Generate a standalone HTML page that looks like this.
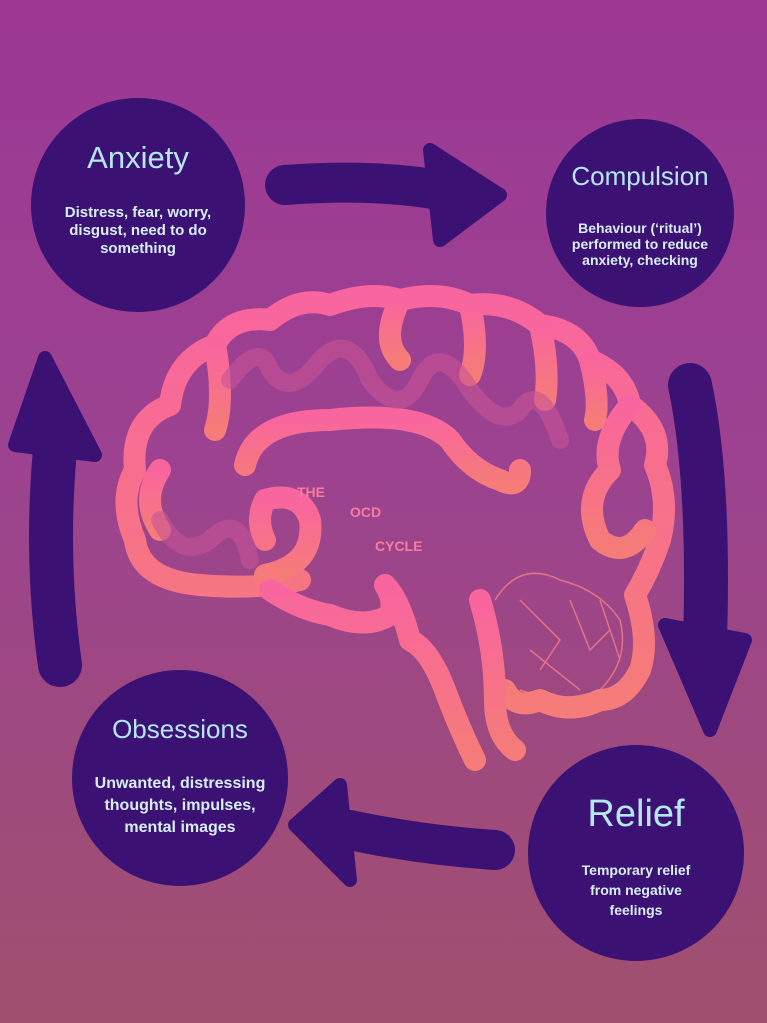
<!DOCTYPE html>
<html><head><meta charset="utf-8"><style>
html,body{margin:0;padding:0}
body{width:767px;height:1023px;overflow:hidden;background:linear-gradient(180deg,#9c3894 0%,#9c4290 45%,#a0506e 100%);position:relative;font-family:"Liberation Sans",sans-serif}
svg{position:absolute;left:0;top:0}
.c{position:absolute;border-radius:50%;background:#3b1274;color:#cdeef5;text-align:center;box-sizing:border-box}
.t{color:#b5e6f2;font-weight:500}
.b{font-size:15px;line-height:18px;font-weight:bold;color:#d8eef6}
</style></head><body>
<svg width="767" height="1023" viewBox="0 0 767 1023">
<defs><linearGradient id="g" x1="0" y1="0" x2="0" y2="1"><stop offset="0" stop-color="#f9659f"/><stop offset="1" stop-color="#f57c78"/></linearGradient></defs>
<g fill="#3b1274" stroke="#3b1274" stroke-linecap="round" stroke-linejoin="round">
<path d="M285 185 Q380 178 450 192" fill="none" stroke-width="40"/>
<path d="M430 150 L500 195 L440 240 Z" stroke-width="14"/>
<path d="M690 385 Q710 480 705 640" fill="none" stroke-width="44"/>
<path d="M665 625 L745 640 L710 730 Z" stroke-width="14"/>
<path d="M495 850 Q420 845 350 830" fill="none" stroke-width="40"/>
<path d="M340 785 L295 825 L350 880 Z" stroke-width="14"/>
<path d="M60 665 Q45 560 55 450" fill="none" stroke-width="44"/>
<path d="M15 445 L45 358 L95 455 Z" stroke-width="14"/>
</g>
<g fill="none" stroke="url(#g)" stroke-width="22" stroke-linecap="round" stroke-linejoin="round">
<path d="M300 580 Q260 590 200 585 Q140 580 135 540 Q118 500 135 470 Q130 420 170 405 Q175 360 215 345 Q230 315 270 320 Q300 295 330 305 Q370 290 400 300 Q440 290 470 305 Q510 300 540 325 Q580 330 590 360 Q625 375 630 405 Q665 430 655 465 Q670 500 660 540 Q650 570 635 595 Q650 640 640 670 Q625 700 600 700 Q570 715 540 700 Q515 710 505 690"/>
<path d="M160 470 Q140 500 160 530"/>
<path d="M215 345 Q225 400 215 430"/>
<path d="M300 330 L300 370"/>
<path d="M400 300 Q380 340 400 360"/>
<path d="M470 305 Q480 350 470 375"/>
<path d="M540 325 Q550 370 545 400"/>
<path d="M590 360 Q600 400 595 420"/>
<path d="M630 405 Q600 440 610 470 Q580 500 600 540 Q625 560 645 530"/>
<path d="M245 465 Q255 420 330 420 Q420 410 450 440 Q470 470 500 480 Q520 490 520 470"/>
<path d="M265 575 Q315 565 310 520 Q300 490 265 500 Q255 520 265 540"/>
<path d="M270 590 Q300 610 330 615 Q365 630 390 615 Q395 600 385 585 Q400 600 410 640 Q430 650 445 690 Q460 730 475 760"/>
<path d="M480 600 Q495 650 495 700 Q495 735 515 750"/>
</g>
<g fill="none" stroke="#f57c88" stroke-width="1.5" opacity="0.8">
<path d="M495 600 Q520 560 560 580 Q600 590 620 620 Q630 660 600 690 Q560 705 520 690"/>
<path d="M520 600 L560 640 L540 670 M570 600 L590 650 L610 630 M530 650 L580 690 M600 600 L620 660"/>
</g>
<g fill="none" stroke="#c85496" stroke-width="18" stroke-linecap="round" opacity="0.6">
<path d="M230 380 Q260 340 270 370 Q290 400 320 360 Q350 330 370 380 Q400 420 420 380 Q440 340 470 390 Q500 430 520 410 Q540 380 560 440"/>
<path d="M160 520 Q180 560 210 540 Q240 510 250 560"/>
</g>
<g fill="#f77da0" font-family="Liberation Sans,sans-serif" font-size="14" font-weight="bold">
<text x="297" y="497">THE</text><text x="350" y="517">OCD</text><text x="375" y="551">CYCLE</text>
</g>
</svg>
<div class="c" style="left:31px;top:98px;width:214px;height:214px;padding-top:42px"><div class="t" style="font-size:31px">Anxiety</div><div class="b" style="margin-top:28px">Distress, fear, worry,<br>disgust, need to do<br>something</div></div>
<div class="c" style="left:546px;top:119px;width:188px;height:188px;padding-top:42px"><div class="t" style="font-size:26px">Compulsion</div><div class="b" style="margin-top:28px;font-size:14px;line-height:16px">Behaviour (‘ritual’)<br>performed to reduce<br>anxiety, checking</div></div>
<div class="c" style="left:72px;top:670px;width:216px;height:216px;padding-top:44px"><div class="t" style="font-size:26px">Obsessions</div><div class="b" style="margin-top:28px;font-size:16px;line-height:22px">Unwanted, distressing<br>thoughts, impulses,<br>mental images</div></div>
<div class="c" style="left:528px;top:745px;width:216px;height:216px;padding-top:48px"><div class="t" style="font-size:38px">Relief</div><div class="b" style="margin-top:24px;font-size:14px;line-height:20px">Temporary relief<br>from negative<br>feelings</div></div>
</body></html>
